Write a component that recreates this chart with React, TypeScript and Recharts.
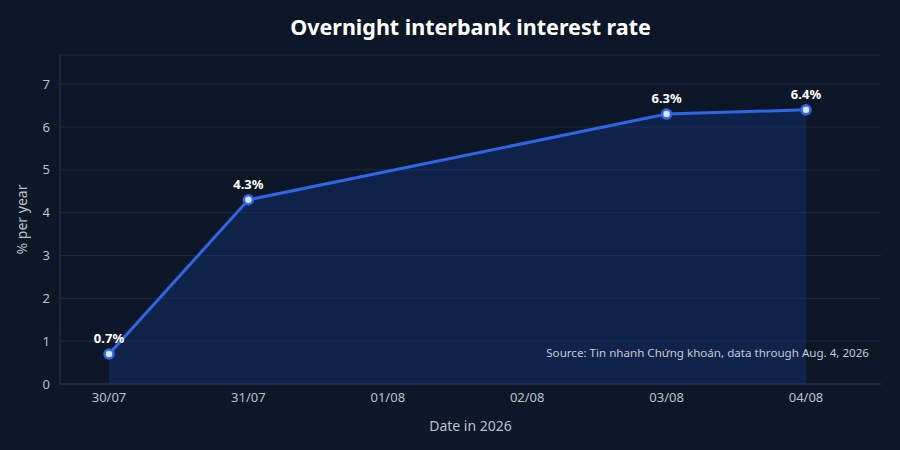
import React from "react";
import {
  ComposedChart,
  Area,
  Line,
  XAxis,
  YAxis,
  CartesianGrid,
  LabelList,
} from "recharts";

const dates = ["30/07", "31/07", "01/08", "02/08", "03/08", "04/08"];
const rates: (number | null)[] = [0.7, 4.3, null, null, 6.3, 6.4];
const yTicks = [0, 1, 2, 3, 4, 5, 6, 7];

const chartData = dates.map((d, i) => ({ date: d, rate: rates[i] }));

const FONT = "'Noto Sans', 'Open Sans', sans-serif";

const Dot = (props: any) => {
  const { cx, cy, value } = props;
  if (value == null || cx == null || cy == null) return null;
  return <circle cx={cx} cy={cy} r={4.5} fill="#d6e4ff" stroke="#2f66e6" strokeWidth={2.5} />;
};

const RateLabel = (props: any) => {
  const { x, y, value } = props;
  if (value == null) return null;
  return (
    <text
      x={x}
      y={y - 11}
      textAnchor="middle"
      fill="#ffffff"
      fontSize={13}
      fontWeight={700}
      fontFamily={FONT}
    >
      {value.toFixed(1)}%
    </text>
  );
};

export default function App() {
  return (
    <div
      style={{
        position: "fixed",
        left: 0,
        top: 0,
        width: 900,
        height: 450,
        background: "linear-gradient(180deg, #0b1626 0%, #0c1828 100%)",
        fontFamily: FONT,
      }}
    >
      <div
        style={{
          position: "absolute",
          top: 12,
          left: 60,
          width: 821,
          textAlign: "center",
          color: "#ffffff",
          fontSize: 21.5,
          fontWeight: 700,
        }}
      >
        Overnight interbank interest rate
      </div>
      <ComposedChart
        width={900}
        height={450}
        data={chartData}
        margin={{ top: 55, right: 19, bottom: 0, left: 0 }}
        style={{ fontFamily: FONT }}
      >
        <CartesianGrid vertical={false} stroke="#1d2a3d" strokeWidth={1} />
        <XAxis
          dataKey="date"
          height={66}
          padding={{ left: 49, right: 75 }}
          stroke="#2a3649"
          tickLine={false}
          tick={{ fill: "#b9c2cf", fontSize: 13 }}
          tickMargin={3}
          label={{
            value: "Date in 2026",
            position: "insideBottom",
            offset: 19,
            fill: "#b9c2cf",
            fontSize: 14,
          }}
        />
        <YAxis
          width={60}
          domain={[0, 7.68]}
          ticks={yTicks}
          stroke="#2a3649"
          tickLine={false}
          tick={{ fill: "#b9c2cf", fontSize: 13 }}
          tickMargin={4}
          label={{
            value: "% per year",
            angle: -90,
            position: "insideLeft",
            offset: 22,
            fill: "#b9c2cf",
            fontSize: 14,
            style: { textAnchor: "middle" },
          }}
        />
        <Area
          type="linear"
          dataKey="rate"
          connectNulls
          stroke="none"
          fill="#163a8c"
          fillOpacity={0.35}
          isAnimationActive={false}
        />
        <Line
          type="linear"
          dataKey="rate"
          connectNulls
          stroke="#2f66e6"
          strokeWidth={3}
          dot={<Dot />}
          activeDot={false}
          isAnimationActive={false}
        >
          <LabelList dataKey="rate" content={<RateLabel />} />
        </Line>
      </ComposedChart>
      <div
        style={{
          position: "absolute",
          right: 31,
          top: 345,
          color: "#c3cbd8",
          fontSize: 11.6,
        }}
      >
        Source: Tin nhanh Chứng khoán, data through Aug. 4, 2026
      </div>
    </div>
  );
}
